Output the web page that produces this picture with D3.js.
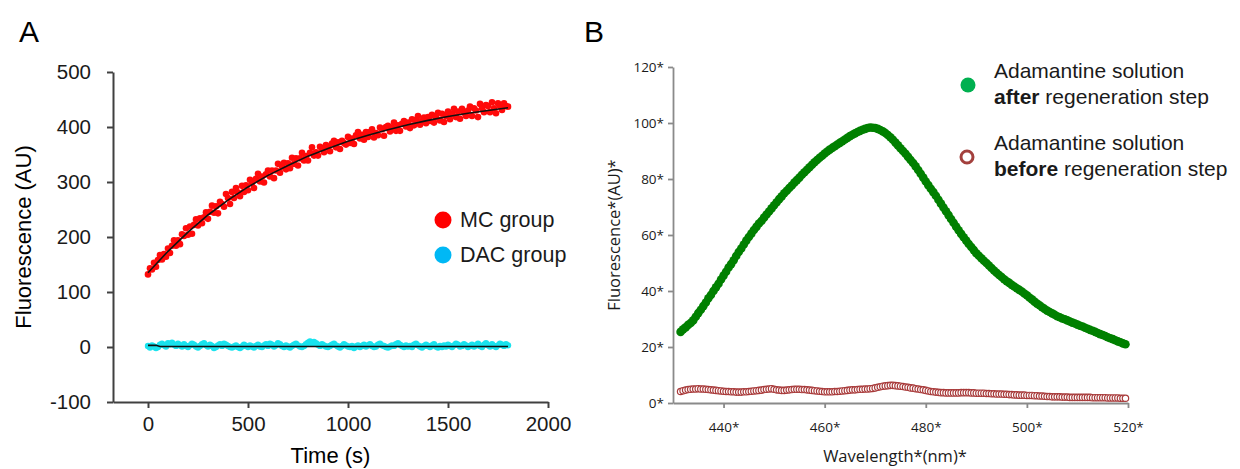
<!DOCTYPE html>
<html>
<head>
<meta charset="utf-8">
<script src="https://cdn.jsdelivr.net/npm/d3@7"></script>
<style>
    body { margin: 0; background: #fff; }
    svg { display: block; }
</style>
</head>
<body>
<svg id="chart" width="1240" height="469"></svg>
<script>
// ---- Panel A: fluorescence over time ----
const mcTime = d3.range(0, 1801, 10);
const mcValues = [
    132, 143, 141, 153, 146, 158, 167, 159, 169, 164,
    179, 171, 184, 194, 184, 194, 187, 205, 202, 216,
    204, 219, 206, 222, 232, 221, 234, 225, 236, 245,
    233, 246, 257, 244, 256, 243, 264, 260, 255, 278,
    271, 260, 282, 271, 289, 281, 274, 293, 282, 294,
    285, 304, 298, 289, 306, 315, 301, 310, 299, 314,
    321, 310, 321, 307, 321, 333, 317, 328, 335, 323,
    334, 325, 344, 333, 343, 330, 343, 353, 339, 347,
    339, 353, 363, 348, 354, 348, 364, 360, 354, 367,
    363, 356, 370, 375, 363, 372, 360, 375, 371, 368,
    382, 371, 379, 369, 385, 391, 379, 386, 377, 391,
    382, 391, 396, 381, 389, 385, 399, 396, 384, 400,
    402, 392, 399, 408, 393, 403, 393, 406, 411, 401,
    408, 398, 414, 403, 413, 420, 404, 411, 417, 407,
    418, 411, 422, 408, 418, 426, 412, 424, 409, 420,
    428, 414, 424, 433, 418, 428, 415, 433, 426, 420,
    430, 437, 420, 434, 430, 418, 442, 434, 427, 440,
    438, 427, 445, 434, 425, 443, 438, 431, 443, 438,
    437
];
const dacValues = [
    2, -1, 3, 1, -2, 0, 4, 6, 3, 1,
    7, 5, 8, 4, 2, 6, 3, 1, 5, 2,
    0, 3, 6, 4, 1, -1, 2, 5, 7, 3,
    1, 4, 2, -2, 0, 3, 5, 2, 6, 4,
    2, 0, -1, 1, 3, 0, -2, 1, 4, 2,
    0, 3, 1, -1, 2, 4, 1, 0, 3, 5,
    2, 6, 4, 1, 3, 7, 5, 2, 0, 3,
    1, -1, 2, 4, 6, 3, 1, 0, 2, 5,
    8, 10, 6, 9, 7, 4, 2, 5, 3, 1,
    0, 2, 4, 6, 3, 1, -1, 2, 5, 3,
    1, 0, 2, -2, 1, 3, 0, 2, 4, 1,
    3, 5, 2, 0, 1, 4, 6, 3, 2, 0,
    -1, 1, 3, 2, 5, 7, 4, 2, 0, 3,
    1, 2, 0, 4, 6, 3, 1, -1, 2, 4,
    2, 0, 3, 5, 1, -1, 2, 0, 3, 1,
    4, 2, 0, 3, 6, 4, 1, 2, 5, 3,
    0, 2, 4, 1, 3, 6, 2, 0, 4, 7,
    3, 1, 5, 2, 0, 3, 6, 4, 2, 5,
    3
];
const mcFitTime = d3.range(0, 1801, 100);
const mcFitValues = [135, 174, 209, 240, 267, 291, 312, 330, 347, 361, 374, 385, 395, 404, 412, 419, 425, 430, 435];
const dacFitTime = [0, 40, 60, 1800];
const dacFitValues = [3, 3, 1, 1];
const timeTicks = [0, 500, 1000, 1500, 2000];
const fluoTicksA = [-100, 0, 100, 200, 300, 400, 500];
const groupsA = ["MC group", "DAC group"];

// ---- Panel B: emission spectra ----
const wavelengths = d3.range(431.5, 519.75, 0.5);
const afterValues = [
    25.4, 26.3, 27.0, 27.9, 28.6, 29.5, 30.8, 32.1, 33.3, 34.6,
    35.9, 37.4, 38.6, 40.0, 41.3, 42.6, 44.1, 45.5, 46.9, 48.4,
    49.6, 51.0, 52.5, 53.9, 55.2, 56.6, 58.0, 59.3, 60.5, 61.8,
    62.9, 64.1, 65.0, 66.2, 67.3, 68.4, 69.5, 70.6, 71.7, 72.8,
    73.8, 74.9, 75.8, 76.8, 77.7, 78.7, 79.6, 80.5, 81.5, 82.4,
    83.3, 84.2, 85.1, 86.0, 86.8, 87.6, 88.3, 89.1, 89.8, 90.5,
    91.1, 91.7, 92.3, 92.9, 93.5, 94.1, 94.7, 95.3, 95.8, 96.3,
    96.8, 97.2, 97.6, 97.9, 98.2, 98.4, 98.3, 98.2, 97.9, 97.5,
    97.0, 96.4, 95.7, 94.9, 94.0, 93.0, 92.0, 91.0, 90.0, 89.0,
    87.9, 86.8, 85.7, 84.5, 83.2, 81.9, 80.5, 79.1, 77.8, 76.5,
    75.3, 74.0, 72.6, 71.2, 69.8, 68.5, 67.1, 65.7, 64.4, 63.0,
    61.7, 60.4, 59.2, 58.0, 56.8, 55.7, 54.6, 53.5, 52.6, 51.7,
    50.8, 50.0, 49.1, 48.2, 47.3, 46.5, 45.7, 45.0, 44.2, 43.5,
    42.9, 42.2, 41.6, 41.0, 40.4, 39.8, 39.1, 38.5, 37.7, 37.0,
    36.2, 35.5, 34.9, 34.2, 33.6, 33.0, 32.5, 32.0, 31.5, 31.0,
    30.6, 30.2, 29.9, 29.5, 29.1, 28.7, 28.4, 28.0, 27.6, 27.3,
    26.9, 26.5, 26.1, 25.8, 25.4, 25.0, 24.6, 24.3, 23.9, 23.5,
    23.1, 22.8, 22.4, 22.0, 21.7, 21.3, 21.0
];
const beforeValues = [
    4.1, 4.4, 4.6, 4.8, 4.9, 5.0, 5.0, 5.1, 5.0, 5.0,
    4.9, 4.8, 4.7, 4.6, 4.5, 4.4, 4.3, 4.2, 4.1, 4.1,
    4.0, 4.0, 3.9, 3.9, 3.9, 4.0, 4.0, 4.1, 4.2, 4.3,
    4.4, 4.5, 4.6, 4.8, 4.9, 5.0, 5.1, 4.9, 4.7, 4.6,
    4.5, 4.5, 4.6, 4.7, 4.8, 4.9, 4.9, 4.9, 4.8, 4.8,
    4.7, 4.6, 4.5, 4.4, 4.3, 4.2, 4.1, 4.0, 4.0, 4.0,
    4.0, 4.1, 4.1, 4.2, 4.3, 4.4, 4.5, 4.6, 4.7, 4.7,
    4.8, 4.9, 4.9, 5.0, 5.0, 5.1, 5.2, 5.4, 5.6, 5.8,
    6.0, 6.1, 6.2, 6.3, 6.3, 6.2, 6.1, 6.0, 5.9, 5.7,
    5.6, 5.4, 5.3, 5.1, 5.0, 4.8, 4.7, 4.5, 4.3, 4.1,
    4.0, 3.9, 3.8, 3.7, 3.7, 3.6, 3.6, 3.6, 3.6, 3.6,
    3.6, 3.7, 3.7, 3.7, 3.7, 3.6, 3.6, 3.5, 3.5, 3.5,
    3.5, 3.4, 3.4, 3.3, 3.3, 3.2, 3.2, 3.2, 3.1, 3.1,
    3.0, 3.0, 2.9, 2.9, 2.8, 2.8, 2.8, 2.7, 2.7, 2.7,
    2.6, 2.6, 2.5, 2.5, 2.4, 2.3, 2.3, 2.2, 2.2, 2.2,
    2.2, 2.1, 2.1, 2.1, 2.0, 2.0, 2.0, 2.0, 2.0, 2.0,
    2.0, 2.0, 2.0, 1.9, 1.9, 1.9, 1.9, 1.9, 1.9, 1.8,
    1.8, 1.8, 1.8, 1.8, 1.7, 1.7, 1.7
];
const wavelengthTicks = [440, 460, 480, 500, 520];
const fluoTicksB = [0, 20, 40, 60, 80, 100, 120];

const svg = d3.select("#chart");
const fontA = '"Liberation Sans", Arial, sans-serif';
const fontB = '"Open Sans", "Noto Sans", sans-serif';

function styleAxis(axis, color, width, fontSize, font) {
    axis.attr("font-family", font).attr("font-size", null);
    axis.selectAll("path, line").attr("stroke", color).attr("stroke-width", width);
    axis.selectAll("text").style("font-size", fontSize).attr("fill", "#1a1a1a");
}

function kineticsPanel() {
    const x = d3.scaleLinear().domain([-175, 2000]).range([113, 548]);
    const y = d3.scaleLinear().domain([-100, 500]).range([402, 72]);
    const g = svg.append("g").style("font-family", fontA);

    g.append("text").attr("x", 19).attr("y", 42).style("font-size", "30px").text("A");

    g.append("g")
        .attr("transform", `translate(0, ${y(-100)})`)
        .call(d3.axisBottom(x).tickValues(timeTicks).tickSize(6).tickSizeOuter(0).tickPadding(8).tickFormat(d => d))
        .call(a => styleAxis(a, "#404040", 2, "20.5px", fontA));

    g.append("g")
        .attr("transform", `translate(${x(-175)}, 0)`)
        .call(d3.axisLeft(y).tickValues(fluoTicksA).tickSize(6).tickSizeOuter(0).tickPadding(16).tickFormat(d => String(d)))
        .call(a => styleAxis(a, "#404040", 2, "20.5px", fontA));

    g.append("text")
        .attr("x", (x(-175) + x(2000)) / 2)
        .attr("y", 463)
        .style("text-anchor", "middle")
        .style("font-size", "22px")
        .text("Time (s)");

    g.append("text")
        .attr("transform", `translate(31, ${(y(-100) + y(500)) / 2}) rotate(-90)`)
        .style("text-anchor", "middle")
        .style("font-size", "22px")
        .text("Fluorescence (AU)");

    // DAC group
    g.append("g").selectAll("circle")
        .data(dacValues)
        .enter()
        .append("circle")
        .attr("cx", (d, i) => x(mcTime[i]))
        .attr("cy", d => y(d))
        .attr("r", 3.2)
        .attr("fill", "#19e3ee");

    // MC group
    g.append("g").selectAll("circle")
        .data(mcValues)
        .enter()
        .append("circle")
        .attr("cx", (d, i) => x(mcTime[i]))
        .attr("cy", d => y(d))
        .attr("r", 3.3)
        .attr("fill", "#ff0a0a");

    const line = d3.line().x(d => x(d[0])).y(d => y(d[1]));
    g.append("path")
        .attr("d", line(d3.zip(mcFitTime, mcFitValues)))
        .attr("fill", "none")
        .attr("stroke", "#111")
        .attr("stroke-width", 1.6);
    g.append("path")
        .attr("d", line(d3.zip(dacFitTime, dacFitValues)))
        .attr("fill", "none")
        .attr("stroke", "#111")
        .attr("stroke-width", 1.6);

    // Legend
    const legendColors = ["#ff0000", "#00b8f5"];
    const legend = g.append("g").selectAll("g")
        .data(groupsA)
        .enter()
        .append("g")
        .attr("transform", (d, i) => `translate(443, ${220 + 35 * i})`);
    legend.append("circle").attr("r", 8.5).attr("fill", (d, i) => legendColors[i]);
    legend.append("text")
        .attr("x", 17)
        .attr("y", 7)
        .style("font-size", "21.5px")
        .attr("fill", "#1a1a1a")
        .text(d => d);
}

function spectraPanel() {
    const x = d3.scaleLinear().domain([430, 520]).range([673, 1128]);
    const y = d3.scaleLinear().domain([0, 120]).range([403, 67]);
    const g = svg.append("g");

    g.append("text").attr("x", 584).attr("y", 42)
        .style("font-family", fontA).style("font-size", "30px").text("B");

    g.append("g")
        .attr("transform", `translate(0, ${y(0)})`)
        .call(d3.axisBottom(x).tickValues(wavelengthTicks).tickSize(5).tickSizeOuter(0).tickPadding(14).tickFormat(d => d + "*"))
        .call(a => styleAxis(a, "#8a8a8a", 1.8, "13.5px", fontB));

    g.append("g")
        .attr("transform", `translate(${x(430)}, 0)`)
        .call(d3.axisLeft(y).tickValues(fluoTicksB).tickSize(5).tickSizeOuter(0).tickPadding(4).tickFormat(d => d + "*"))
        .call(a => styleAxis(a, "#8a8a8a", 1.8, "13.5px", fontB));

    g.append("text")
        .attr("x", 895)
        .attr("y", 462)
        .style("text-anchor", "middle")
        .style("font-family", fontB)
        .style("font-size", "16.5px")
        .attr("fill", "#1a1a1a")
        .text("Wavelength*(nm)*");

    g.append("text")
        .attr("transform", `translate(620, ${(y(0) + y(120)) / 2}) rotate(-90)`)
        .style("text-anchor", "middle")
        .style("font-family", fontB)
        .style("font-size", "16.5px")
        .attr("fill", "#1a1a1a")
        .text("Fluorescence*(AU)*");

    // before regeneration: hollow circles
    g.append("g").selectAll("circle")
        .data(beforeValues)
        .enter()
        .append("circle")
        .attr("cx", (d, i) => x(wavelengths[i]))
        .attr("cy", d => y(d))
        .attr("r", 3.2)
        .attr("fill", "#fff")
        .attr("stroke", "#a83a3a")
        .attr("stroke-width", 1.2);

    // after regeneration: filled circles
    g.append("g").selectAll("circle")
        .data(afterValues)
        .enter()
        .append("circle")
        .attr("cx", (d, i) => x(wavelengths[i]))
        .attr("cy", d => y(d))
        .attr("r", 4.3)
        .attr("fill", "#008000");

    // Legend
    const legend = g.append("g").style("font-family", fontA).style("font-size", "21px").attr("fill", "#1a1a1a");
    legend.append("circle").attr("cx", 968).attr("cy", 85).attr("r", 7.5).attr("fill", "#00b050");
    legend.append("text").attr("x", 994).attr("y", 78).text("Adamantine solution");
    const t1 = legend.append("text").attr("x", 994).attr("y", 104);
    t1.append("tspan").style("font-weight", "bold").text("after");
    t1.append("tspan").text(" regeneration step");

    legend.append("circle").attr("cx", 967).attr("cy", 157).attr("r", 6)
        .attr("fill", "none").attr("stroke", "#a3403d").attr("stroke-width", 3);
    legend.append("text").attr("x", 994).attr("y", 150).text("Adamantine solution");
    const t2 = legend.append("text").attr("x", 994).attr("y", 176);
    t2.append("tspan").style("font-weight", "bold").text("before");
    t2.append("tspan").text(" regeneration step");
}

kineticsPanel();
spectraPanel();
</script>
</body>
</html>
